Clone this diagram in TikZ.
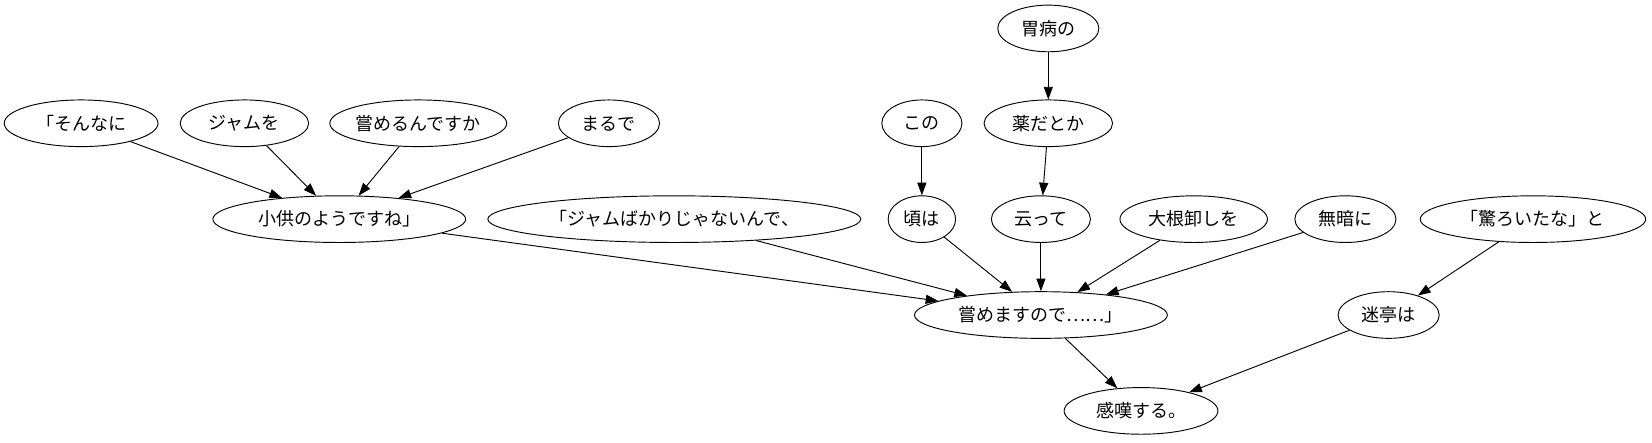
\documentclass[tikz,border=0pt]{standalone}
\usepackage{fontspec}
\newfontfamily\jp{Noto Sans CJK JP}
\usetikzlibrary{shapes.geometric,arrows.meta}
\begin{document}
\begin{tikzpicture}[x=0.7902pt,y=-0.7902pt,
  ell/.style={ellipse, draw, line width=0.7pt, inner sep=0pt, minimum height=35pt, minimum width=#1*0.7902pt, font=\jp\fontsize{13.5}{15}\selectfont},
  arr/.style={-{Triangle[length=9.5pt,width=6.8pt]}, line width=0.7pt}]
\fill[white] (0,0) rectangle (1568,420);
\useasboundingbox (0,0) rectangle (1568,420);
\node[ell=96]  (ibyo)   at (995,27)  {胃病の};
\node[ell=146] (sonna)  at (77,117)  {「そんなに};
\node[ell=122] (jamu)   at (232,117) {ジャムを};
\node[ell=160] (name1)  at (397,117) {嘗めるんですか};
\node[ell=96]  (marude) at (578,117) {まるで};
\node[ell=76]  (kono)   at (875,117) {この};
\node[ell=122] (kusuri) at (995,117) {薬だとか};
\node[ell=240] (kodomo) at (322,208) {小供のようですね」};
\node[ell=354] (jamub)  at (640,208) {「ジャムばかりじゃないんで、};
\node[ell=64]  (koro)   at (875,208) {頃は};
\node[ell=94]  (itte)   at (988,208) {云って};
\node[ell=140] (daikon) at (1133,208) {大根卸しを};
\node[ell=96]  (muyami) at (1277,208) {無暗に};
\node[ell=214] (odoro)  at (1455,208) {「驚ろいたな」と};
\node[ell=240] (name2)  at (988,299) {嘗めますので……」};
\node[ell=96]  (meitei) at (1318,299) {迷亭は};
\node[ell=146] (kantan) at (1083,390) {感嘆する。};
\draw[arr] (sonna) -- (kodomo);
\draw[arr] (jamu) -- (kodomo);
\draw[arr] (name1) -- (kodomo);
\draw[arr] (marude) -- (kodomo);
\draw[arr] (kodomo) -- (name2);
\draw[arr] (jamub) -- (name2);
\draw[arr] (kono) -- (koro);
\draw[arr] (koro) -- (name2);
\draw[arr] (ibyo) -- (kusuri);
\draw[arr] (kusuri) -- (itte);
\draw[arr] (itte) -- (name2);
\draw[arr] (daikon) -- (name2);
\draw[arr] (muyami) -- (name2);
\draw[arr] (odoro) -- (meitei);
\draw[arr] (name2) -- (kantan);
\draw[arr] (meitei) -- (kantan);
\end{tikzpicture}
\end{document}
